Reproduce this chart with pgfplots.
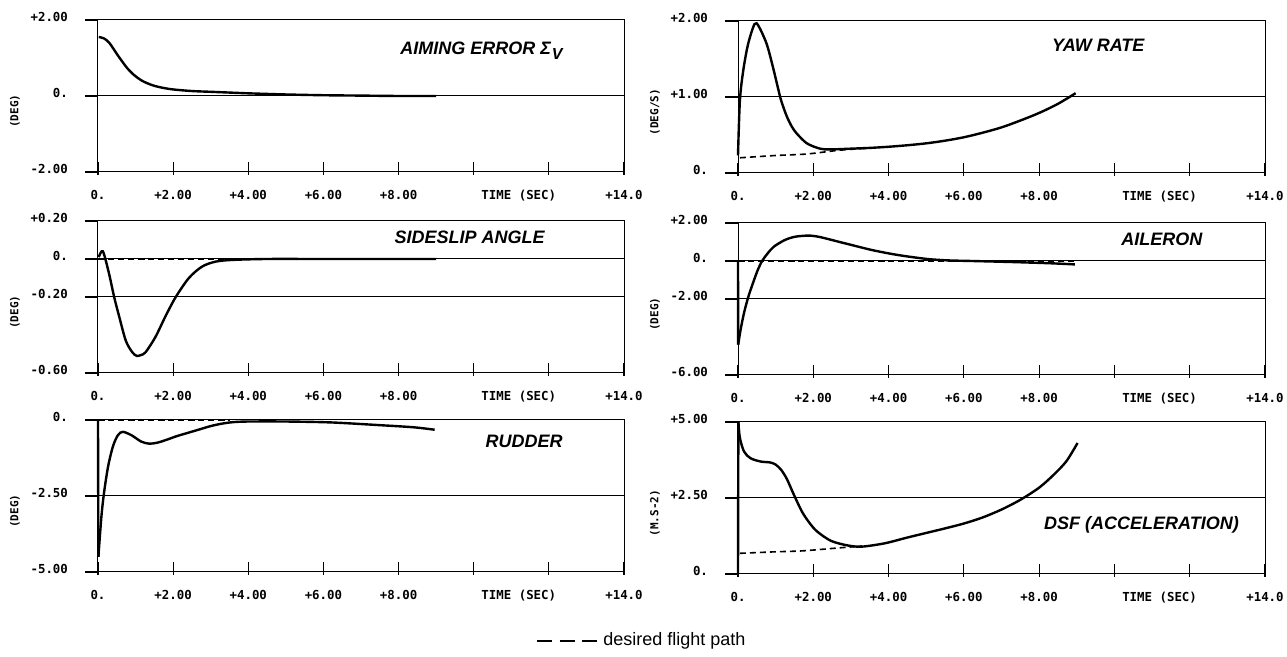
\documentclass[border=0pt]{standalone}
\usepackage{fontspec}
\setmainfont{Liberation Sans}
\newfontfamily\plotfont{DejaVu Sans Mono}
\usepackage{pgfplots}
\pgfplotsset{compat=1.18}

\newcommand{\tickfont}{\plotfont\bfseries\fontsize{6.2}{7}\selectfont}
\newcommand{\titlefont}{\fontsize{9}{10}\selectfont\bfseries\itshape}

\pgfplotsset{panel/.style={
  scale only axis, width=263pt, height=76pt,
  anchor=south west,
  xmin=0, xmax=14, xtick={0,2,...,14},
  xticklabels={0.,+2.00,+4.00,+6.00,+8.00,,,+14.0},
  xtick pos=bottom, ytick pos=left,
  tick align=outside, major tick length=6.5pt,
  major x tick style={yshift=5pt},
  ymajorgrids, grid style={black, line width=0.5pt},
  axis line style={line width=0.5pt},
  tick style={black, line width=0.6pt},
  tick label style={font=\tickfont},
  xticklabel style={yshift=1pt},
  yticklabel style={xshift=-5pt, yshift=1.5pt},
  ylabel style={font=\plotfont\bfseries\fontsize{5.5}{6}\selectfont, at={([xshift=-41.5pt]rel axis cs:0,0.4)}, anchor=center},
  clip=false,
}}
\pgfplotsset{
  curve/.style={black, no marks, line width=1.2pt, smooth, tension=0.5},
  spike/.style={black, no marks, line width=1.2pt},
  desired/.style={black, no marks, line width=0.8pt, dash pattern=on 3pt off 2pt, smooth}}
\newcommand{\timelabel}{\node[font=\tickfont, anchor=north, yshift=-5.5pt] at (rel axis cs:0.8,0) {TIME (SEC)};}

\begin{document}
\begin{tikzpicture}
\useasboundingbox (0,0) rectangle (643.5pt,328.5pt);

% ---- Aiming error ----
\begin{axis}[panel, at={(49pt,242.5pt)},
  ymin=-2, ymax=2, ytick={-2,0,2}, yticklabels={-2.00,0.,+2.00}, ylabel={(DEG)}]
\addplot[curve] coordinates {(0.02,1.55)(0.15,1.52)(0.3,1.40)(0.52,1.08)(0.65,0.90)(0.78,0.73)(0.95,0.56)(1.14,0.42)(1.3,0.34)(1.49,0.27)(1.75,0.21)(2.02,0.17)(2.5,0.13)(3.0,0.11)(3.5,0.09)(4.0,0.07)(5.0,0.04)(6.0,0.02)(7.0,0.01)(8.0,0.0)(9.0,0.0)};
\node[anchor=east, inner sep=0pt, font=\titlefont] at (rel axis cs:0.884,0.796) {AIMING ERROR Σ\kern0.5pt\raisebox{-0.55ex}{\fontsize{8}{8}\selectfont V}};
\timelabel
\end{axis}

% ---- Yaw rate ----
\begin{axis}[panel, at={(369pt,242pt)}, width=263.5pt,
  ymin=0, ymax=2, ytick={0,1,2}, yticklabels={0.,+1.00,+2.00}, ylabel={(DEG/S)}]
\addplot[curve] coordinates {(0.0,0.23)(0.05,0.95)(0.14,1.35)(0.27,1.70)(0.44,1.96)(0.55,1.93)(0.76,1.70)(0.93,1.39)(1.12,1.00)(1.21,0.86)(1.30,0.74)(1.43,0.61)(1.56,0.52)(1.83,0.39)(2.18,0.32)(2.45,0.31)(3.0,0.32)(3.5,0.33)(4.0,0.345)(4.5,0.365)(5.0,0.39)(5.5,0.425)(6.0,0.47)(6.5,0.53)(7.0,0.60)(7.5,0.69)(8.0,0.79)(8.5,0.91)(8.97,1.05)};
\addplot[desired] coordinates {(0.05,0.20)(1.0,0.23)(1.83,0.25)(2.71,0.30)(3.6,0.33)};
\node[anchor=east, inner sep=0pt, font=\titlefont] at (rel axis cs:0.772,0.842) {YAW RATE};
\timelabel
\end{axis}

% ---- Sideslip angle ----
\begin{axis}[panel, at={(49pt,142pt)},
  ymin=-0.6, ymax=0.2, ytick={-0.6,-0.2,0,0.2}, yticklabels={-0.60,-0.20,0.,+0.20}, ylabel={(DEG)}]
\addplot[curve] coordinates {(0.02,0.01)(0.13,0.04)(0.29,-0.074)(0.43,-0.20)(0.56,-0.30)(0.74,-0.43)(0.91,-0.49)(1.03,-0.51)(1.15,-0.505)(1.27,-0.49)(1.53,-0.41)(1.80,-0.30)(2.07,-0.20)(2.42,-0.10)(2.77,-0.04)(3.13,-0.014)(3.57,-0.005)(4.5,0)(6.0,0)(9.0,0)};
\addplot[desired] coordinates {(0,0)(3.6,0)};
\node[anchor=east, inner sep=0pt, font=\titlefont] at (rel axis cs:0.85,0.895) {SIDESLIP ANGLE};
\timelabel
\end{axis}

% ---- Aileron ----
\begin{axis}[panel, at={(369pt,141pt)}, width=263.5pt,
  ymin=-6, ymax=2, ytick={-6,-2,0,2}, yticklabels={-6.00,-2.00,0.,+2.00}, ylabel={(DEG)}]
\addplot[spike] coordinates {(0,0)(0.005,-4.4)};
\addplot[curve] coordinates {(0.005,-4.4)(0.08,-3.5)(0.17,-2.65)(0.28,-1.85)(0.40,-1.15)(0.52,-0.50)(0.64,0.0)(0.78,0.38)(0.95,0.75)(1.24,1.10)(1.5,1.27)(1.77,1.33)(1.95,1.33)(2.2,1.25)(2.66,1.02)(3.1,0.80)(3.55,0.58)(4.0,0.40)(4.43,0.26)(5.05,0.10)(5.6,0.03)(6.2,0.0)(7.0,-0.04)(7.53,-0.07)(8.3,-0.12)(8.95,-0.18)};
\addplot[desired] coordinates {(0,0)(9,0)};
\node[anchor=east, inner sep=0pt, font=\titlefont] at (rel axis cs:0.882,0.895) {AILERON};
\timelabel
\end{axis}

% ---- Rudder ----
\begin{axis}[panel, at={(49pt,42.5pt)},
  ymin=-5, ymax=0, ytick={-5,-2.5,0}, yticklabels={-5.00,-2.50,0.}, ylabel={(DEG)}]
\addplot[spike] coordinates {(0,0)(0.01,-4.5)};
\addplot[curve] coordinates {(0.01,-4.5)(0.09,-3.19)(0.16,-2.40)(0.27,-1.52)(0.40,-0.86)(0.53,-0.50)(0.66,-0.39)(0.89,-0.50)(1.15,-0.71)(1.37,-0.78)(1.6,-0.74)(1.85,-0.64)(2.1,-0.53)(2.4,-0.42)(2.7,-0.31)(3.0,-0.20)(3.3,-0.12)(3.6,-0.07)(4.0,-0.05)(5.0,-0.05)(6.2,-0.08)(7.5,-0.17)(8.4,-0.24)(8.96,-0.32)};
\addplot[desired] coordinates {(0,0)(3.5,0)};
\node[anchor=east, inner sep=0pt, font=\titlefont] at (rel axis cs:0.884,0.862) {RUDDER};
\timelabel
\end{axis}

% ---- DSF ----
\begin{axis}[panel, at={(369pt,41.5pt)}, width=263.5pt,
  ymin=0, ymax=5, ytick={0,2.5,5}, yticklabels={0.,+2.50,+5.00}, ylabel={(M.S-2)}]
\addplot[spike] coordinates {(0,0)(0.01,5.0)};
\addplot[curve] coordinates {(0.01,5.0)(0.05,4.48)(0.16,4.03)(0.33,3.81)(0.6,3.70)(0.85,3.67)(1.0,3.60)(1.15,3.42)(1.3,3.12)(1.48,2.62)(1.7,2.05)(1.9,1.68)(2.1,1.40)(2.47,1.09)(2.91,0.94)(3.29,0.90)(3.9,1.01)(4.5,1.20)(5.0,1.35)(5.5,1.50)(6.0,1.66)(6.5,1.86)(7.0,2.12)(7.5,2.44)(8.0,2.84)(8.4,3.28)(8.73,3.72)(9.02,4.31)};
\addplot[desired] coordinates {(0.05,0.68)(1.0,0.73)(1.7,0.76)(2.5,0.84)(3.29,0.92)};
\node[anchor=east, inner sep=0pt, font=\titlefont] at (rel axis cs:0.951,0.322) {DSF (ACCELERATION)};
\timelabel
\end{axis}

% ---- key ----
\draw[line width=0.8pt, dash pattern=on 7.5pt off 3.75pt] (268.5pt,8pt) -- (298.5pt,8pt);
\node[anchor=west, inner sep=0pt, font=\fontsize{9}{10}\selectfont] at (301.5pt,8pt) {desired flight path};
\end{tikzpicture}
\end{document}
